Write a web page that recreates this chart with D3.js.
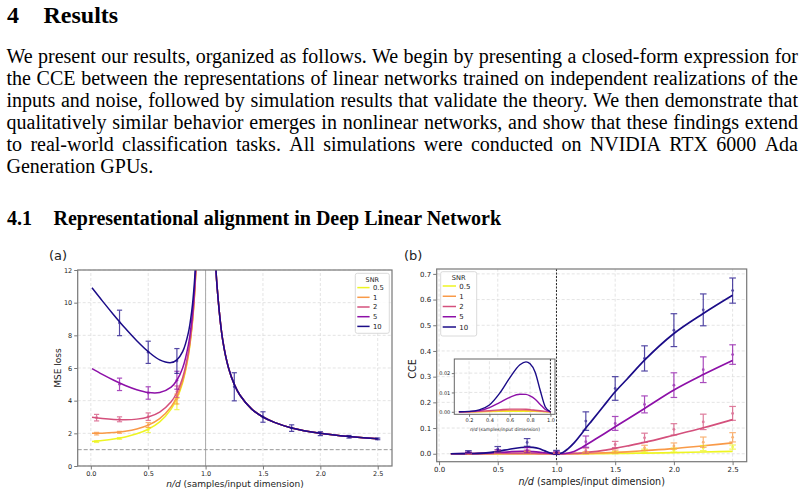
<!DOCTYPE html>
<html>
<head>
<meta charset="utf-8">
<script src="https://cdn.jsdelivr.net/npm/d3@7"></script>
<style>
body { margin: 0; background: #fff; }
svg { display: block; }
.serif text { font-family: "Liberation Serif", "Times New Roman", serif; fill: #000; }
.chart text { font-family: "DejaVu Sans", sans-serif; fill: #222; }
</style>
</head>
<body>
<svg id="page" width="806" height="495"></svg>
<script>
// ---- text of the page ----
var sectionTitle = ["4", "Results"];
var subsectionTitle = ["4.1", "Representational alignment in Deep Linear Network"];
var bodyLines = [
    "We present our results, organized as follows. We begin by presenting a closed-form expression for",
    "the CCE between the representations of linear networks trained on independent realizations of the",
    "inputs and noise, followed by simulation results that validate the theory. We then demonstrate that",
    "qualitatively similar behavior emerges in nonlinear networks, and show that these findings extend",
    "to real-world classification tasks.  All simulations were conducted on NVIDIA RTX 6000 Ada",
    "Generation GPUs."
];

// ---- series ----
var snrLevels = ["0.5", "1", "2", "5", "10"];
var snrColors = ["#eef522", "#f99a48", "#d4507c", "#8d10a8", "#1b0c88"];

// (a) MSE loss, theory curves for n/d < 1
var mseX      = [0.01, 0.1, 0.2, 0.3, 0.4, 0.5, 0.6, 0.7, 0.75, 0.8, 0.85, 0.88, 0.9, 0.92];
var mseSnr05  = [1.50, 1.56, 1.65, 1.78, 1.97, 2.25, 2.70, 3.48, 4.13, 5.10, 6.74, 8.39, 10.05, 12.54];
var mseSnr1   = [2.00, 2.01, 2.05, 2.13, 2.27, 2.50, 2.90, 3.63, 4.25, 5.20, 6.82, 8.45, 10.10, 12.58];
var mseSnr2   = [2.99, 2.91, 2.85, 2.83, 2.87, 3.00, 3.30, 3.93, 4.50, 5.40, 6.97, 8.57, 10.20, 12.66];
var mseSnr5   = [5.96, 5.61, 5.25, 4.93, 4.67, 4.50, 4.50, 4.83, 5.25, 6.00, 7.42, 8.93, 10.50, 12.90];
var mseSnr10  = [10.91, 10.11, 9.25, 8.43, 7.67, 7.00, 6.50, 6.33, 6.50, 7.00, 8.17, 9.53, 11.00, 13.30];
// n/d > 1 (same for every SNR)
var mseRightX = [1.08, 1.1, 1.15, 1.2, 1.25, 1.3, 1.4, 1.5, 1.6, 1.75, 2.0, 2.25, 2.5];
var mseRight  = [13.5, 11.0, 7.67, 6.0, 5.0, 4.33, 3.5, 3.0, 2.67, 2.33, 2.0, 1.8, 1.67];

// (a) simulations (mean +- std)
var mseObsX05 = [0.05, 0.25, 0.5, 0.75];
var mseObs05  = [1.49, 1.69, 2.20, 3.80];
var mseErr05  = [0.05, 0.05, 0.15, 0.35];
var mseObsX1  = [0.05, 0.25, 0.5, 0.75];
var mseObs1   = [1.98, 2.06, 2.51, 4.10];
var mseErr1   = [0.08, 0.06, 0.15, 0.30];
var mseObsX2  = [0.05, 0.25, 0.5, 0.75];
var mseObs2   = [2.96, 2.86, 3.02, 4.55];
var mseErr2   = [0.20, 0.15, 0.23, 0.35];
var mseObsX5  = [0.25, 0.5, 0.75];
var mseObs5   = [5.00, 4.47, 5.25];
var mseErr5   = [0.38, 0.38, 0.55];
var mseObsX10 = [0.25, 0.5, 0.75, 1.25, 1.5, 1.75, 2.0, 2.25, 2.5];
var mseObs10  = [8.76, 6.96, 6.43, 4.85, 3.00, 2.32, 1.98, 1.79, 1.66];
var mseErr10  = [0.78, 0.68, 0.76, 0.86, 0.32, 0.20, 0.12, 0.08, 0.05];

// (b) CCE theory curves
var cceX      = [0.1, 0.2, 0.3, 0.4, 0.5, 0.6, 0.7, 0.76, 0.8, 0.85, 0.9, 0.95, 1.0, 1.05, 1.1, 1.15, 1.2, 1.25, 1.3, 1.4, 1.5, 1.6, 1.75, 2.0, 2.25, 2.5];
var cceSnr05  = [0, 0, 0, 0.0001, 0.0002, 0.0003, 0.0003, 0.0003, 0.0002, 0.0002, 0.0001, 0, 0, 0, 0, 0.0001, 0.0001, 0.0002, 0.0003, 0.0006, 0.001, 0.0015, 0.0025, 0.0045, 0.0068, 0.0092];
var cceSnr1   = [0, 0, 0.0001, 0.0003, 0.0006, 0.0008, 0.0008, 0.0007, 0.0006, 0.0005, 0.0003, 0.0001, 0, 0, 0.0001, 0.0003, 0.0006, 0.001, 0.0015, 0.003, 0.005, 0.0075, 0.012, 0.02, 0.031, 0.042];
var cceSnr2   = [0, 0, 0.0002, 0.0006, 0.001, 0.0014, 0.0014, 0.0013, 0.0011, 0.0008, 0.0005, 0.0002, 0, 0, 0.0005, 0.0012, 0.0025, 0.005, 0.007, 0.013, 0.021, 0.03, 0.044, 0.072, 0.101, 0.133];
var cceSnr5   = [0, 0.0001, 0.0006, 0.0022, 0.0048, 0.0075, 0.0091, 0.009, 0.0082, 0.0065, 0.0038, 0.0012, 0, 0.0005, 0.003, 0.009, 0.02, 0.034, 0.048, 0.076, 0.105, 0.133, 0.176, 0.248, 0.308, 0.363];
var cceSnr10  = [0, 0.0002, 0.001, 0.0035, 0.0095, 0.0175, 0.0243, 0.0258, 0.0248, 0.0205, 0.011, 0.0025, 0, 0.004, 0.02, 0.042, 0.07, 0.1, 0.128, 0.185, 0.241, 0.29, 0.364, 0.468, 0.546, 0.617];

// (b) simulations
var cceObsX   = [0.25, 0.5, 0.75, 1.0, 1.25, 1.5, 1.75, 2.0, 2.25, 2.5];
var cceObs05  = [0.001, 0.002, 0.003, 0.001, 0.002, 0.004, 0.012, 0.014, 0.022, 0.026];
var cceErr05  = [0.001, 0.002, 0.002, 0.001, 0.002, 0.004, 0.006, 0.008, 0.010, 0.008];
var cceObs1   = [0.001, 0.004, 0.005, 0.002, 0.004, 0.008, 0.023, 0.030, 0.045, 0.064];
var cceErr1   = [0.001, 0.003, 0.004, 0.002, 0.004, 0.006, 0.010, 0.012, 0.020, 0.018];
var cceObs2   = [0.002, 0.006, 0.008, 0.002, 0.012, 0.036, 0.062, 0.095, 0.124, 0.157];
var cceErr2   = [0.002, 0.004, 0.006, 0.003, 0.010, 0.012, 0.018, 0.022, 0.030, 0.027];
var cceObs5   = [0.004, 0.010, 0.014, 0.003, 0.047, 0.118, 0.192, 0.267, 0.327, 0.386];
var cceErr5   = [0.003, 0.006, 0.010, 0.005, 0.022, 0.027, 0.033, 0.048, 0.050, 0.038];
var cceObs10  = [0.008, 0.018, 0.044, 0.005, 0.127, 0.254, 0.371, 0.481, 0.560, 0.635];
var cceErr10  = [0.004, 0.010, 0.015, 0.008, 0.036, 0.046, 0.049, 0.064, 0.062, 0.049];

var mseTicksX = [0, 0.5, 1, 1.5, 2, 2.5];
var mseTicksY = [0, 2, 4, 6, 8, 10, 12];
var cceTicksX = [0, 0.5, 1, 1.5, 2, 2.5];
var cceTicksY = [0, 0.1, 0.2, 0.3, 0.4, 0.5, 0.6, 0.7];
var insetTicksX = [0.2, 0.4, 0.6, 0.8, 1.0];
var insetTicksY = [0, 0.01, 0.02];

var mseSeries = [
    {curve: mseSnr05, ox: mseObsX05, oy: mseObs05, oe: mseErr05},
    {curve: mseSnr1,  ox: mseObsX1,  oy: mseObs1,  oe: mseErr1},
    {curve: mseSnr2,  ox: mseObsX2,  oy: mseObs2,  oe: mseErr2},
    {curve: mseSnr5,  ox: mseObsX5,  oy: mseObs5,  oe: mseErr5},
    {curve: mseSnr10, ox: mseObsX10, oy: mseObs10, oe: mseErr10}
];
var cceSeries = [
    {curve: cceSnr05, oy: cceObs05, oe: cceErr05},
    {curve: cceSnr1,  oy: cceObs1,  oe: cceErr1},
    {curve: cceSnr2,  oy: cceObs2,  oe: cceErr2},
    {curve: cceSnr5,  oy: cceObs5,  oe: cceErr5},
    {curve: cceSnr10, oy: cceObs10, oe: cceErr10}
];

var svg = d3.select("#page");
svg.append("rect").attr("width", 806).attr("height", 495).attr("fill", "#fff");

// ---- page text ----
var txt = svg.append("g").attr("class", "serif");

txt.append("text").attr("x", 7).attr("y", 23).attr("font-size", 24).attr("font-weight", "bold").text(sectionTitle[0]);
txt.append("text").attr("x", 43.5).attr("y", 23).attr("font-size", 24).attr("font-weight", "bold").text(sectionTitle[1]);

function justifyLine(words, y, x0, x1, last) {
    var nodes = words.map(function(w) {
        return txt.append("text").attr("y", y).attr("font-size", 20).text(w);
    });
    var widths = nodes.map(function(n) { return n.node().getComputedTextLength(); });
    var gap = last ? 5 : (x1 - x0 - d3.sum(widths)) / (words.length - 1);
    var x = x0;
    nodes.forEach(function(n, i) {
        n.attr("x", x);
        x += widths[i] + gap;
    });
}

bodyLines.forEach(function(line, i) {
    var words = line.split(/ +/);
    justifyLine(words, 63 + i * 22, 6.5, 798, i === bodyLines.length - 1);
});

txt.append("text").attr("x", 7).attr("y", 225).attr("font-size", 20).attr("font-weight", "bold").text(subsectionTitle[0]);
txt.append("text").attr("x", 53.5).attr("y", 225).attr("font-size", 20).attr("font-weight", "bold").text(subsectionTitle[1]);

// ---- helpers ----
function styleAxis(g, size) {
    g.attr("font-family", "DejaVu Sans").attr("font-size", size);
    g.select(".domain").remove();
    g.selectAll(".tick line").attr("stroke", "#555").attr("stroke-width", 0.8);
    g.selectAll(".tick text").attr("fill", "#222");
}

function drawGrid(g, x, y, tx, ty) {
    var x0 = x.range()[0], x1 = x.range()[1], y0 = y.range()[0], y1 = y.range()[1];
    g.append("g").selectAll("line").data(tx).join("line")
        .attr("x1", function(d) { return x(d); }).attr("x2", function(d) { return x(d); })
        .attr("y1", y0).attr("y2", y1)
        .attr("stroke", "#d8d8d8").attr("stroke-width", 0.7).attr("stroke-dasharray", "3,2");
    g.append("g").selectAll("line").data(ty).join("line")
        .attr("y1", function(d) { return y(d); }).attr("y2", function(d) { return y(d); })
        .attr("x1", x0).attr("x2", x1)
        .attr("stroke", "#d8d8d8").attr("stroke-width", 0.7).attr("stroke-dasharray", "3,2");
}

function drawErrorBars(g, x, y, xs, ys, es, color, cap) {
    var pts = d3.zip(xs, ys, es);
    var eb = g.append("g").attr("opacity", 0.75);
    eb.selectAll("line.v").data(pts).join("line").attr("class", "v")
        .attr("x1", function(d) { return x(d[0]); }).attr("x2", function(d) { return x(d[0]); })
        .attr("y1", function(d) { return y(d[1] - d[2]); }).attr("y2", function(d) { return y(d[1] + d[2]); })
        .attr("stroke", color).attr("stroke-width", 1.2);
    eb.selectAll("line.top").data(pts).join("line").attr("class", "top")
        .attr("x1", function(d) { return x(d[0]) - cap; }).attr("x2", function(d) { return x(d[0]) + cap; })
        .attr("y1", function(d) { return y(d[1] + d[2]); }).attr("y2", function(d) { return y(d[1] + d[2]); })
        .attr("stroke", color).attr("stroke-width", 1.2);
    eb.selectAll("line.bot").data(pts).join("line").attr("class", "bot")
        .attr("x1", function(d) { return x(d[0]) - cap; }).attr("x2", function(d) { return x(d[0]) + cap; })
        .attr("y1", function(d) { return y(d[1] - d[2]); }).attr("y2", function(d) { return y(d[1] - d[2]); })
        .attr("stroke", color).attr("stroke-width", 1.2);
    eb.selectAll("circle").data(pts).join("circle")
        .attr("cx", function(d) { return x(d[0]); }).attr("cy", function(d) { return y(d[1]); })
        .attr("r", 1.4).attr("fill", color);
}

function drawLegend(g, x, y, w, h, fs, lineLen, step) {
    g.append("rect").attr("x", x).attr("y", y).attr("width", w).attr("height", h).attr("rx", 2)
        .attr("fill", "#fff").attr("fill-opacity", 0.85).attr("stroke", "#d0d0d0").attr("stroke-width", 0.8);
    g.append("text").attr("x", x + w / 2).attr("y", y + fs + 1.5).attr("text-anchor", "middle")
        .attr("font-size", fs * 0.95).text("SNR");
    var items = g.selectAll("g.item").data(snrLevels).join("g").attr("class", "item")
        .attr("transform", function(d, i) { return "translate(" + (x + 2) + "," + (y + 14.3 + i * step) + ")"; });
    items.append("line").attr("x1", 0).attr("x2", lineLen).attr("stroke-width", 1.5)
        .attr("stroke", function(d, i) { return snrColors[i]; });
    items.append("text").attr("x", lineLen + 3.3).attr("y", fs * 0.36).attr("font-size", fs).text(function(d) { return d; });
}

// ---- panel (a) ----
var xa = d3.scaleLinear().domain([-0.1145, 2.6245]).range([77.7, 392]);
var ya = d3.scaleLinear().domain([0, 12]).range([466, 270]);
var ga = svg.append("g").attr("class", "chart");

ga.append("clipPath").attr("id", "clipA").append("rect")
    .attr("x", 77.7).attr("y", 270).attr("width", 392 - 77.7).attr("height", 466 - 270);

drawGrid(ga, xa, ya, mseTicksX, mseTicksY);

ga.append("line").attr("x1", xa(1)).attr("x2", xa(1)).attr("y1", 270).attr("y2", 466)
    .attr("stroke", "#aaa").attr("stroke-width", 1);
ga.append("line").attr("x1", 77.7).attr("x2", 392).attr("y1", ya(1)).attr("y2", ya(1))
    .attr("stroke", "#999").attr("stroke-width", 1).attr("stroke-dasharray", "4,2");

var lineA = d3.line().x(function(d) { return xa(d[0]); }).y(function(d) { return ya(d[1]); })
    .curve(d3.curveCatmullRom);
var plotA = ga.append("g").attr("clip-path", "url(#clipA)");

mseSeries.forEach(function(s, i) {
    plotA.append("path").datum(d3.zip(mseX, s.curve)).attr("d", lineA)
        .attr("fill", "none").attr("stroke", snrColors[i]).attr("stroke-width", 1.5);
    plotA.append("path").datum(d3.zip(mseRightX, mseRight)).attr("d", lineA)
        .attr("fill", "none").attr("stroke", snrColors[i]).attr("stroke-width", 1.5);
});
mseSeries.forEach(function(s, i) {
    drawErrorBars(plotA, xa, ya, s.ox, s.oy, s.oe, snrColors[i], 2.6);
});

ga.append("g").attr("transform", "translate(0,466)")
    .call(d3.axisBottom(xa).tickValues(mseTicksX).tickFormat(d3.format(".1f")).tickSize(3.5).tickPadding(2))
    .call(styleAxis, 6.5);
ga.append("g").attr("transform", "translate(77.7,0)")
    .call(d3.axisLeft(ya).tickValues(mseTicksY).tickFormat(d3.format("d")).tickSize(3.5).tickPadding(2))
    .call(styleAxis, 6.5);

ga.append("rect").attr("x", 77.7).attr("y", 270).attr("width", 392 - 77.7).attr("height", 466 - 270)
    .attr("fill", "none").attr("stroke", "#777").attr("stroke-width", 1.2);

drawLegend(ga, 355.3, 273.3, 34, 60, 6.8, 12.3, 9.7);

var xlabA = ga.append("text").attr("x", 235).attr("y", 487).attr("text-anchor", "middle").attr("font-size", 9);
xlabA.append("tspan").attr("font-style", "italic").text("n/d");
xlabA.append("tspan").text(" (samples/input dimension)");
ga.append("text").attr("transform", "translate(60.5,368) rotate(-90)").attr("text-anchor", "middle")
    .attr("font-size", 9).text("MSE loss");
ga.append("text").attr("x", 49).attr("y", 260).attr("font-size", 13).text("(a)");

// ---- panel (b) ----
var xb = d3.scaleLinear().domain([-0.02, 2.62]).range([436.7, 746.7]);
var yb = d3.scaleLinear().domain([-0.031, 0.719]).range([461.7, 269]);
var gb = svg.append("g").attr("class", "chart");

gb.append("clipPath").attr("id", "clipB").append("rect")
    .attr("x", 436.7).attr("y", 269).attr("width", 746.7 - 436.7).attr("height", 461.7 - 269);

drawGrid(gb, xb, yb, cceTicksX, cceTicksY);

var lineB = d3.line().x(function(d) { return xb(d[0]); }).y(function(d) { return yb(d[1]); })
    .curve(d3.curveMonotoneX);
var plotB = gb.append("g").attr("clip-path", "url(#clipB)");

plotB.append("line").attr("x1", xb(1)).attr("x2", xb(1)).attr("y1", 269).attr("y2", 461.7)
    .attr("stroke", "#111").attr("stroke-width", 0.9).attr("stroke-dasharray", "2,1.5");

cceSeries.forEach(function(s, i) {
    plotB.append("path").datum(d3.zip(cceX, s.curve)).attr("d", lineB)
        .attr("fill", "none").attr("stroke", snrColors[i]).attr("stroke-width", 1.7);
});
cceSeries.forEach(function(s, i) {
    drawErrorBars(plotB, xb, yb, cceObsX, s.oy, s.oe, snrColors[i], 3.3);
});

gb.append("g").attr("transform", "translate(0,461.7)")
    .call(d3.axisBottom(xb).tickValues(cceTicksX).tickFormat(d3.format(".1f")).tickSize(3.5).tickPadding(2))
    .call(styleAxis, 7);
gb.append("g").attr("transform", "translate(436.7,0)")
    .call(d3.axisLeft(yb).tickValues(cceTicksY).tickFormat(d3.format(".1f")).tickSize(3.5).tickPadding(2))
    .call(styleAxis, 7);

gb.append("rect").attr("x", 436.7).attr("y", 269).attr("width", 746.7 - 436.7).attr("height", 461.7 - 269)
    .attr("fill", "none").attr("stroke", "#777").attr("stroke-width", 1.2);

drawLegend(gb, 440.7, 271.7, 36, 64.3, 7, 13.3, 10.25);

var xlabB = gb.append("text").attr("x", 591.7).attr("y", 485).attr("text-anchor", "middle").attr("font-size", 9.6);
xlabB.append("tspan").attr("font-style", "italic").text("n/d");
xlabB.append("tspan").text(" (samples/input dimension)");
gb.append("text").attr("transform", "translate(416,369) rotate(-90)").attr("text-anchor", "middle")
    .attr("font-size", 9.6).text("CCE");
gb.append("text").attr("x", 404).attr("y", 260).attr("font-size", 13).text("(b)");

// ---- inset of (b) ----
var xi = d3.scaleLinear().domain([0.055, 1.045]).range([454.3, 555]);
var yi = d3.scaleLinear().domain([-0.0013, 0.0273]).range([414.3, 359]);
var gi = gb.append("g");

gi.append("rect").attr("x", 454.3).attr("y", 359).attr("width", 555 - 454.3).attr("height", 414.3 - 359)
    .attr("fill", "#fff");
gi.append("clipPath").attr("id", "clipI").append("rect")
    .attr("x", 454.3).attr("y", 359).attr("width", 555 - 454.3).attr("height", 414.3 - 359);
drawGrid(gi, xi, yi, insetTicksX, insetTicksY);

var lineI = d3.line().x(function(d) { return xi(d[0]); }).y(function(d) { return yi(d[1]); })
    .curve(d3.curveMonotoneX);
var plotI = gi.append("g").attr("clip-path", "url(#clipI)");
plotI.append("line").attr("x1", xi(1)).attr("x2", xi(1)).attr("y1", 359).attr("y2", 414.3)
    .attr("stroke", "#111").attr("stroke-width", 0.9).attr("stroke-dasharray", "2,1.5");
cceSeries.forEach(function(s, i) {
    var pts = d3.zip(cceX, s.curve).filter(function(d) { return d[0] <= 1.0; });
    plotI.append("path").datum(pts).attr("d", lineI)
        .attr("fill", "none").attr("stroke", snrColors[i]).attr("stroke-width", 1.4);
});

gi.append("g").attr("transform", "translate(0,414.3)")
    .call(d3.axisBottom(xi).tickValues(insetTicksX).tickFormat(d3.format(".1f")).tickSize(2.5).tickPadding(1.5))
    .call(styleAxis, 5);
gi.append("g").attr("transform", "translate(454.3,0)")
    .call(d3.axisLeft(yi).tickValues(insetTicksY).tickFormat(d3.format(".2f")).tickSize(2.5).tickPadding(1.5))
    .call(styleAxis, 5);
gi.append("rect").attr("x", 454.3).attr("y", 359).attr("width", 555 - 454.3).attr("height", 414.3 - 359)
    .attr("fill", "none").attr("stroke", "#666").attr("stroke-width", 1);
var xlabI = gi.append("text").attr("x", 505).attr("y", 431).attr("text-anchor", "middle").attr("font-size", 4.6);
xlabI.append("tspan").attr("font-style", "italic").text("n/d");
xlabI.append("tspan").text(" (samples/input dimension)");
</script>
</body>
</html>
